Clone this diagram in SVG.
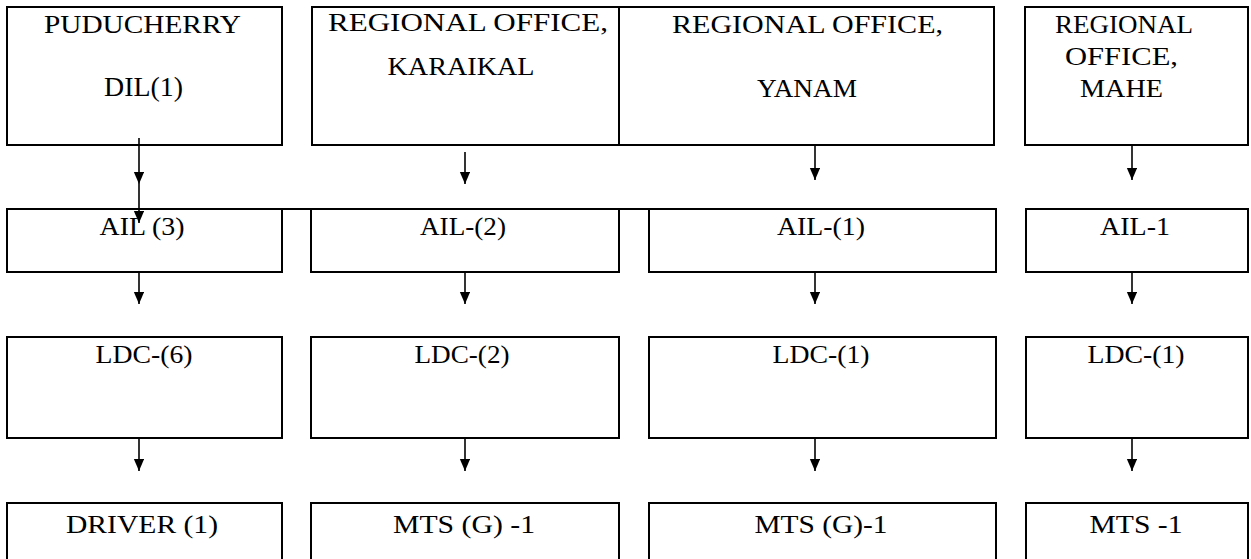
<svg xmlns="http://www.w3.org/2000/svg" width="1251" height="559" viewBox="0 0 1251 559">
<style>
.box{fill:#fff;stroke:#000;stroke-width:2}
.lbl{font-family:"Liberation Serif","Times New Roman",serif;font-size:26px;fill:#000;text-anchor:middle}
.con{stroke:#000;stroke-width:1.6;fill:none}
</style>
<defs>
<marker id="ah" viewBox="0 0 12 14" refX="14" refY="6" markerWidth="14" markerHeight="12" markerUnits="userSpaceOnUse" orient="auto">
<path d="M0,0 L14,6 L0,12 Z" fill="#000"/>
</marker>
</defs>
<rect width="1251" height="559" fill="#fff"/>
<g id="n-puducherry"><rect class="box" x="7" y="7" width="275" height="138"/>
<text class="lbl" x="142.5" y="33" textLength="197" lengthAdjust="spacingAndGlyphs">PUDUCHERRY</text>
<text class="lbl" x="143.5" y="96" textLength="79" lengthAdjust="spacingAndGlyphs" style="font-size:28px">DIL(1)</text></g>
<g id="n-karaikal"><rect class="box" x="312" y="7" width="307" height="138"/>
<text class="lbl" x="468" y="31" textLength="280" lengthAdjust="spacingAndGlyphs">REGIONAL OFFICE,</text>
<text class="lbl" x="461" y="75" textLength="147" lengthAdjust="spacingAndGlyphs">KARAIKAL</text></g>
<g id="n-yanam"><rect class="box" x="619" y="7" width="375" height="138"/>
<text class="lbl" x="807.5" y="33" textLength="271" lengthAdjust="spacingAndGlyphs">REGIONAL OFFICE,</text>
<text class="lbl" x="807" y="97" textLength="100" lengthAdjust="spacingAndGlyphs">YANAM</text></g>
<g id="n-mahe"><rect class="box" x="1025" y="7" width="223" height="138"/>
<text class="lbl" x="1124" y="33" textLength="138" lengthAdjust="spacingAndGlyphs">REGIONAL</text>
<text class="lbl" x="1121.5" y="65" textLength="113" lengthAdjust="spacingAndGlyphs">OFFICE,</text>
<text class="lbl" x="1121.5" y="97" textLength="83" lengthAdjust="spacingAndGlyphs">MAHE</text></g>

<g id="n-ail3"><rect class="box" x="7" y="209" width="275" height="63"/>
<text class="lbl" x="142" y="235" textLength="85" lengthAdjust="spacingAndGlyphs">AIL (3)</text></g>
<g id="n-ail2"><rect class="box" x="311" y="209" width="308" height="63"/>
<text class="lbl" x="463" y="235" textLength="86" lengthAdjust="spacingAndGlyphs">AIL-(2)</text></g>
<g id="n-ail1"><rect class="box" x="649" y="209" width="347" height="63"/>
<text class="lbl" x="821" y="235" textLength="88" lengthAdjust="spacingAndGlyphs">AIL-(1)</text></g>
<g id="n-ail1m"><rect class="box" x="1026" y="209" width="222" height="63"/>
<text class="lbl" x="1135" y="235" textLength="70" lengthAdjust="spacingAndGlyphs">AIL-1</text></g>
<line x1="7" y1="209" x2="649" y2="209" stroke="#000" stroke-width="2"/>

<g id="n-ldc6"><rect class="box" x="7" y="337" width="275" height="101"/>
<text class="lbl" x="144" y="363" textLength="97" lengthAdjust="spacingAndGlyphs">LDC-(6)</text></g>
<g id="n-ldc2"><rect class="box" x="311" y="337" width="308" height="101"/>
<text class="lbl" x="462" y="363" textLength="95" lengthAdjust="spacingAndGlyphs">LDC-(2)</text></g>
<g id="n-ldc1y"><rect class="box" x="649" y="337" width="347" height="101"/>
<text class="lbl" x="821" y="363" textLength="97" lengthAdjust="spacingAndGlyphs">LDC-(1)</text></g>
<g id="n-ldc1m"><rect class="box" x="1026" y="337" width="222" height="101"/>
<text class="lbl" x="1136" y="363" textLength="97" lengthAdjust="spacingAndGlyphs">LDC-(1)</text></g>

<g id="n-driver"><rect class="box" x="7" y="503" width="275" height="70"/>
<text class="lbl" x="142" y="533" textLength="152" lengthAdjust="spacingAndGlyphs">DRIVER (1)</text></g>
<g id="n-mtsk"><rect class="box" x="311" y="503" width="308" height="70"/>
<text class="lbl" x="464" y="533" textLength="142" lengthAdjust="spacingAndGlyphs">MTS (G) -1</text></g>
<g id="n-mtsy"><rect class="box" x="649" y="503" width="347" height="70"/>
<text class="lbl" x="821" y="533" textLength="133" lengthAdjust="spacingAndGlyphs">MTS (G)-1</text></g>
<g id="n-mtsm"><rect class="box" x="1026" y="503" width="222" height="70"/>
<text class="lbl" x="1136" y="533" textLength="93" lengthAdjust="spacingAndGlyphs">MTS -1</text></g>

<g id="connectors">
<line class="con" x1="139" y1="138" x2="139" y2="184" marker-end="url(#ah)"/>
<line class="con" x1="139" y1="184" x2="139" y2="223" marker-end="url(#ah)"/>
<line class="con" x1="465" y1="152" x2="465" y2="184" marker-end="url(#ah)"/>
<line class="con" x1="815" y1="145" x2="815" y2="180" marker-end="url(#ah)"/>
<line class="con" x1="1132" y1="145" x2="1132" y2="180" marker-end="url(#ah)"/>
<line class="con" x1="139" y1="272" x2="139" y2="304" marker-end="url(#ah)"/>
<line class="con" x1="465" y1="272" x2="465" y2="304" marker-end="url(#ah)"/>
<line class="con" x1="815" y1="272" x2="815" y2="304" marker-end="url(#ah)"/>
<line class="con" x1="1132" y1="272" x2="1132" y2="304" marker-end="url(#ah)"/>
<line class="con" x1="139" y1="438" x2="139" y2="471" marker-end="url(#ah)"/>
<line class="con" x1="465" y1="438" x2="465" y2="471" marker-end="url(#ah)"/>
<line class="con" x1="815" y1="438" x2="815" y2="471" marker-end="url(#ah)"/>
<line class="con" x1="1132" y1="438" x2="1132" y2="471" marker-end="url(#ah)"/>
</g>
</svg>
